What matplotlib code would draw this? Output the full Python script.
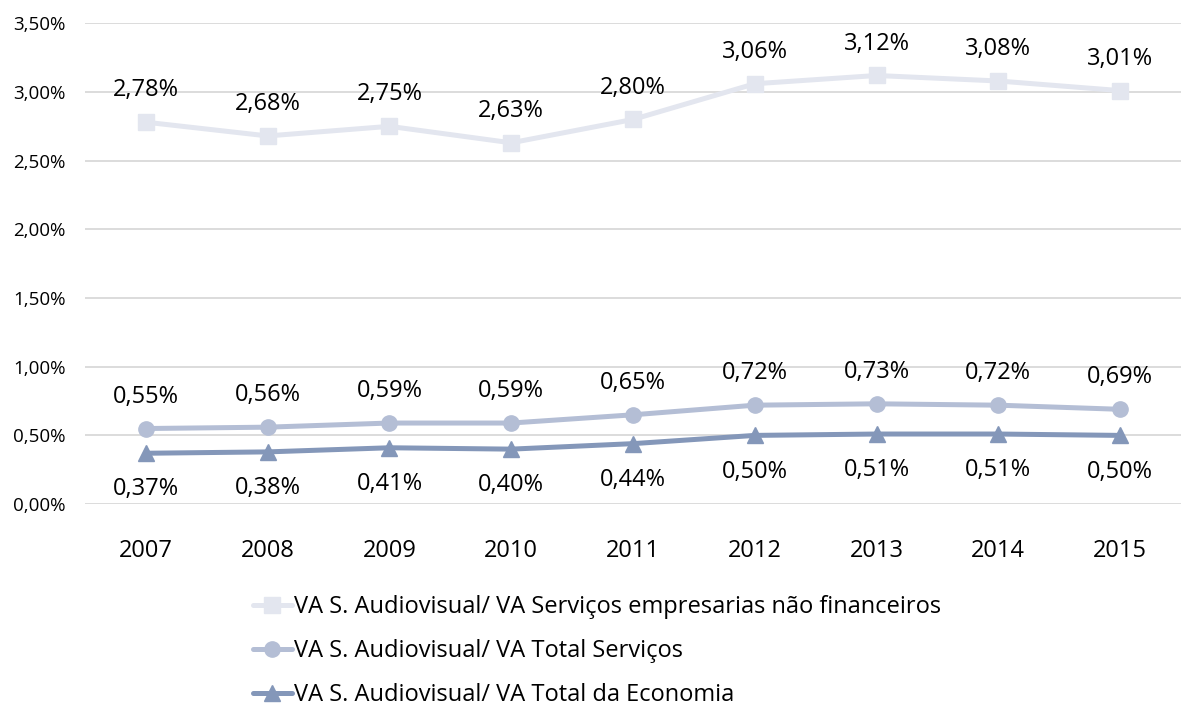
import matplotlib.pyplot as plt

anos = ['2007', '2008', '2009', '2010', '2011', '2012', '2013', '2014', '2015']
va_empresariais = [2.78, 2.68, 2.75, 2.63, 2.80, 3.06, 3.12, 3.08, 3.01]
va_servicos = [0.55, 0.56, 0.59, 0.59, 0.65, 0.72, 0.73, 0.72, 0.69]
va_economia = [0.37, 0.38, 0.41, 0.40, 0.44, 0.50, 0.51, 0.51, 0.50]
rotulos = ['VA S. Audiovisual/ VA Serviços empresarias não financeiros',
           'VA S. Audiovisual/ VA Total Serviços',
           'VA S. Audiovisual/ VA Total da Economia']
y_ticks = [0, 0.5, 1.0, 1.5, 2.0, 2.5, 3.0, 3.5]

plt.rcParams['font.family'] = ['Open Sans', 'DejaVu Sans']

fig = plt.figure(figsize=(11.81, 7.06), dpi=100)
ax = fig.add_axes([0.072, 0.286, 0.928, 0.681])

x = range(len(anos))
series = [
    (va_empresariais, '#E3E6EF', 's', 11, 23),
    (va_servicos, '#B4BED5', 'o', 11, 23),
    (va_economia, '#8497B9', '^', 12, -26),
]
for (vals, cor, marc, ms, off), lab in zip(series, rotulos):
    ax.plot(x, vals, color=cor, lw=3.6, marker=marc, ms=ms, label=lab,
            solid_capstyle='round')
    for xi, v in zip(x, vals):
        ax.annotate(f'{v:.2f}%'.replace('.', ','), (xi, v),
                    xytext=(0, off), textcoords='offset points',
                    ha='center', va='center', fontsize=17, color='#000000')

ax.set_xlim(-0.5, len(anos) - 0.5)
ax.set_ylim(0, 3.5)
ax.set_yticks(y_ticks)
ax.set_yticklabels([f'{t:.2f}%'.replace('.', ',') for t in y_ticks], fontsize=13.5)
ax.set_xticks(list(x))
ax.set_xticklabels(anos, fontsize=17)
ax.tick_params(length=0)
ax.tick_params(axis='x', pad=25)
ax.tick_params(axis='y', pad=14)
ax.grid(axis='y', color='#D9D9D9', lw=1.3)
ax.set_axisbelow(True)
for s in ax.spines.values():
    s.set_visible(False)

fig.legend(loc='upper left', bbox_to_anchor=(0.214, 0.157), frameon=False,
           fontsize=17, handlelength=1.65, handletextpad=0.1,
           labelspacing=0.85, borderpad=0, borderaxespad=0)

fig.savefig('out.png', dpi=100)
